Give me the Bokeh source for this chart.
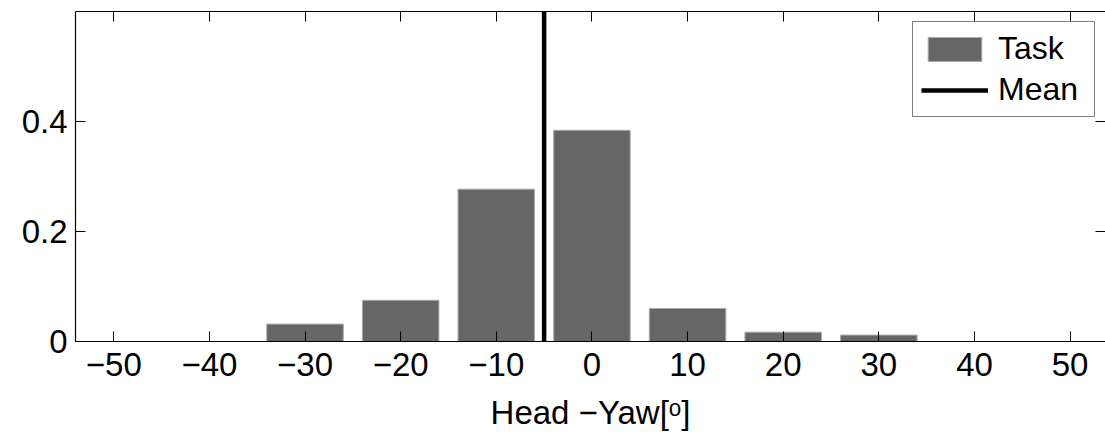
from bokeh.plotting import figure
from bokeh.models import LinearAxis, FixedTicker, Range1d, Legend, LegendItem, ColumnDataSource
from bokeh.embed import file_html
from bokeh.resources import INLINE

# ---- data ----
bin_centers = [-50, -40, -30, -20, -10, 0, 10, 20, 30, 40, 50]
task_freq = [0.0, 0.0, 0.0316, 0.075, 0.277, 0.384, 0.060, 0.017, 0.0116, 0.0, 0.0]
mean_yaw = -5.0
x_ticks = [-50, -40, -30, -20, -10, 0, 10, 20, 30, 40, 50]
x_tick_labels = ["\u221250", "\u221240", "\u221230", "\u221220", "\u221210", "0", "10", "20", "30", "40", "50"]
y_ticks = [0, 0.2, 0.4]
y_tick_labels = ["0", "0.2", "0.4"]
x_min, x_max = -54, 53.7
y_min, y_max = 0, 0.6
x_label = "Head \u2212Yaw[\u1d52]"

FONT = "Liberation Sans"
FS = "33px"

p = figure(width=1105, height=435, x_range=Range1d(x_min, x_max), y_range=Range1d(y_min, y_max),
           output_backend="svg", toolbar_location=None,
           min_border_left=75, min_border_right=0, min_border_top=11, min_border_bottom=94)
p.outline_line_color = None
p.xgrid.visible = False
p.ygrid.visible = False
p.background_fill_color = "white"
p.border_fill_color = "white"

src = ColumnDataSource(dict(x=bin_centers, top=task_freq))
bars = p.vbar(x="x", top="top", bottom=0, width=8, source=src,
              fill_color="#666666", line_color="#aaaaaa", line_width=1)
mean_line = p.line(x=[mean_yaw, mean_yaw], y=[y_min, y_max], line_color="black", line_width=4.5)


def style_axis(ax, ticks, labels, show_labels=True):
    ax.ticker = FixedTicker(ticks=ticks)
    ax.major_label_overrides = {t: l for t, l in zip(ticks, labels)}
    ax.major_tick_in = 10
    ax.major_tick_out = 0
    ax.minor_tick_in = 0
    ax.minor_tick_out = 0
    ax.major_tick_line_color = "black"
    ax.major_tick_line_width = 1
    ax.axis_line_color = "black"
    ax.axis_line_width = 1.2
    ax.major_label_text_font = FONT
    ax.major_label_text_font_size = FS if show_labels else "0px"
    ax.major_label_text_color = "black"


xa = p.xaxis[0]
style_axis(xa, x_ticks, x_tick_labels)
xa.major_label_standoff = 11
xa.axis_label = x_label
xa.axis_label_text_font = FONT
xa.axis_label_text_font_size = FS
xa.axis_label_text_font_style = "normal"
xa.axis_label_text_color = "black"
xa.axis_label_text_line_height = 0.8
xa.axis_label_standoff = 15

ya = p.yaxis[0]
style_axis(ya, y_ticks, y_tick_labels)
ya.major_label_standoff = 8

top_ax = LinearAxis()
style_axis(top_ax, x_ticks, ["" for _ in x_ticks], show_labels=False)
top_ax.major_label_standoff = 0
p.add_layout(top_ax, "above")

right_ax = LinearAxis()
style_axis(right_ax, y_ticks, ["" for _ in y_ticks], show_labels=False)
right_ax.major_label_standoff = 0
right_ax.axis_line_color = None
p.add_layout(right_ax, "right")

legend = Legend(items=[LegendItem(label="Task", renderers=[bars]),
                       LegendItem(label="Mean", renderers=[mean_line])],
                location="top_right")
legend.border_line_color = "black"
legend.border_line_width = 1
legend.background_fill_color = "white"
legend.background_fill_alpha = 1
legend.label_text_font = FONT
legend.label_text_font_size = "32px"
legend.label_text_color = "black"
legend.glyph_width = 67
legend.glyph_height = 30
legend.label_standoff = 10
legend.label_width = 88
legend.padding = 8
legend.spacing = 4
legend.margin = 10
p.add_layout(legend)

open("out.html", "w").write(file_html(p, INLINE))
